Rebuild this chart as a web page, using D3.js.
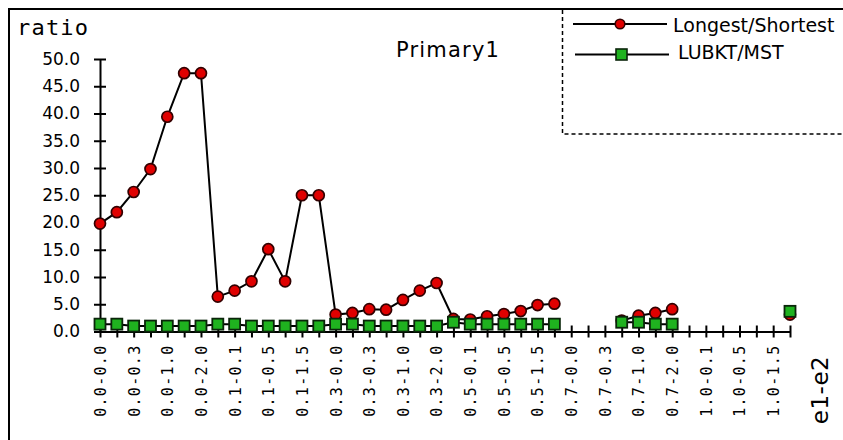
<!DOCTYPE html>
<html><head><meta charset="utf-8">
<script src="https://cdn.jsdelivr.net/npm/d3@7/dist/d3.min.js"></script>
<style>
html,body{margin:0;padding:0;background:#fff;}
svg{display:block;}
</style>
</head><body>
<svg id="chart" width="843" height="440"></svg>
<script>
const categories = [
  "0.0-0.0","0.0-0.1","0.0-0.3","0.0-0.5","0.0-1.0","0.0-1.5","0.0-2.0",
  "0.1-0.0","0.1-0.1","0.1-0.3","0.1-0.5","0.1-1.0","0.1-1.5","0.1-2.0",
  "0.3-0.0","0.3-0.1","0.3-0.3","0.3-0.5","0.3-1.0","0.3-1.5","0.3-2.0",
  "0.5-0.0","0.5-0.1","0.5-0.3","0.5-0.5","0.5-1.0","0.5-1.5","0.5-2.0",
  "0.7-0.0","0.7-0.1","0.7-0.3","0.7-0.5","0.7-1.0","0.7-1.5","0.7-2.0",
  "1.0-0.0","1.0-0.1","1.0-0.3","1.0-0.5","1.0-1.0","1.0-1.5","1.0-2.0"
];
const tickLabels = [
  "0.0-0.0","0.0-0.3","0.0-1.0","0.0-2.0","0.1-0.1","0.1-0.5","0.1-1.5",
  "0.3-0.0","0.3-0.3","0.3-1.0","0.3-2.0","0.5-0.1","0.5-0.5","0.5-1.5",
  "0.7-0.0","0.7-0.3","0.7-1.0","0.7-2.0","1.0-0.1","1.0-0.5","1.0-1.5"
];
const longestShortest = [
  19.8, 21.9, 25.6, 29.8, 39.4, 47.4, 47.4,
  6.4, 7.5, 9.2, 15.1, 9.2, 25.0, 25.0,
  3.1, 3.4, 4.1, 4.0, 5.8, 7.5, 8.9,
  2.3, 2.2, 2.8, 3.2, 3.75, 4.85, 5.1,
  null, null, null, 2.0, 2.9, 3.4, 4.1,
  null, null, null, null, null, null, 3.1
];
const lubktMst = [
  1.35, 1.35, 1.0, 1.0, 1.0, 1.0, 1.0,
  1.35, 1.35, 1.0, 1.0, 1.0, 1.0, 1.0,
  1.35, 1.35, 1.0, 1.0, 1.0, 1.0, 1.0,
  1.7, 1.35, 1.35, 1.35, 1.35, 1.35, 1.35,
  null, null, null, 1.7, 1.7, 1.35, 1.35,
  null, null, null, null, null, null, 3.7
];
const yTicks = [0,5,10,15,20,25,30,35,40,45,50];
const seriesNames = ["Longest/Shortest", "LUBKT/MST"];

const svg = d3.select("#chart");
const x = d3.scalePoint().domain(categories).range([100, 790]);
const y = d3.scaleLinear().domain([0, 50]).range([331.5, 59]);

// outer frame
svg.append("path").attr("d","M9,440V9H843").attr("fill","none").attr("stroke","#000").attr("stroke-width",2);
// legend box (dashed)
svg.append("path").attr("d","M562.5,10V134H843").attr("fill","none").attr("stroke","#000")
  .attr("stroke-width",1.5).attr("stroke-dasharray","4,3");

// y axis
const yAxis = svg.append("g").attr("transform","translate(100,0)")
  .call(d3.axisLeft(y).tickValues(yTicks).tickFormat(d3.format(".1f")).tickSizeOuter(0));
yAxis.select(".domain").attr("stroke-width",2);
yAxis.selectAll(".tick line").attr("x1",-6).attr("x2",6).attr("stroke-width",2);
yAxis.selectAll(".tick text").attr("x",-20).attr("font-family","DejaVu Sans").attr("font-size",17)
  .attr("letter-spacing","0px").attr("fill","#000");

// x axis
const labelSet = new Set(tickLabels);
const xAxis = svg.append("g").attr("transform","translate(0,331.5)")
  .call(d3.axisBottom(x).tickValues(categories).tickFormat(d => labelSet.has(d) ? d : "").tickSizeOuter(0));
xAxis.select(".domain").attr("stroke-width",2);
xAxis.selectAll(".tick line").attr("y1",-6).attr("y2",6).attr("stroke-width",2);
xAxis.selectAll(".tick text")
  .attr("transform","rotate(-90)")
  .attr("text-anchor","end")
  .attr("x",-13).attr("y",0).attr("dy","0.36em")
  .attr("font-family","DejaVu Sans Mono").attr("font-size",15)
  .attr("letter-spacing","1.3px").attr("fill","#000");

// texts
svg.append("text").attr("x",17).attr("y",35).text("ratio")
  .attr("font-family","DejaVu Sans Mono").attr("font-size",22).attr("letter-spacing","1.2px");
svg.append("text").attr("x",396).attr("y",57).text("Primary1")
  .attr("font-family","DejaVu Sans").attr("font-size",21).attr("letter-spacing","1.2px");
svg.append("text").attr("x",820).attr("y",390).attr("transform","rotate(-90,820,390)")
  .attr("text-anchor","middle").attr("dy","0.36em").text("e1-e2")
  .attr("font-family","DejaVu Sans").attr("font-size",23).attr("letter-spacing","0.5px");

// lines
const line = d3.line().defined(d => d[1] != null).x(d => x(d[0])).y(d => y(d[1]));
const redData = categories.map((c,i) => [c, longestShortest[i]]);
const greenData = categories.map((c,i) => [c, lubktMst[i]]);

svg.append("path").datum(redData).attr("d", line).attr("fill","none").attr("stroke","#000").attr("stroke-width",2);
svg.selectAll("circle.red").data(redData.filter(d => d[1] != null)).enter().append("circle")
  .attr("class","red").attr("cx", d => x(d[0])).attr("cy", d => y(d[1])).attr("r",5.5)
  .attr("fill","#e00000").attr("stroke","#300").attr("stroke-width",1.7);

svg.append("path").datum(greenData).attr("d", line).attr("fill","none").attr("stroke","#000").attr("stroke-width",2);
svg.selectAll("rect.green").data(greenData.filter(d => d[1] != null)).enter().append("rect")
  .attr("class","green").attr("x", d => x(d[0]) - 5.5).attr("y", d => y(d[1]) - 5.5)
  .attr("width",11).attr("height",11)
  .attr("fill","#1fb21f").attr("stroke","#0a250a").attr("stroke-width",1.8);

// legend
const lg = svg.append("g");
lg.append("line").attr("x1",573).attr("x2",667).attr("y1",24).attr("y2",24).attr("stroke","#000").attr("stroke-width",1.8);
lg.append("circle").attr("cx",620).attr("cy",24).attr("r",4.8).attr("fill","#e00000").attr("stroke","#300").attr("stroke-width",1.6);
lg.append("text").attr("x",673).attr("y",32).text(seriesNames[0])
  .attr("font-family","DejaVu Sans").attr("font-size",19);
lg.append("line").attr("x1",575).attr("x2",669).attr("y1",54.5).attr("y2",54.5).attr("stroke","#000").attr("stroke-width",1.8);
lg.append("rect").attr("x",616).attr("y",49).attr("width",11).attr("height",11)
  .attr("fill","#1fb21f").attr("stroke","#0a250a").attr("stroke-width",1.6);
lg.append("text").attr("x",678).attr("y",59).text(seriesNames[1])
  .attr("font-family","DejaVu Sans").attr("font-size",19);
</script>
</body></html>
